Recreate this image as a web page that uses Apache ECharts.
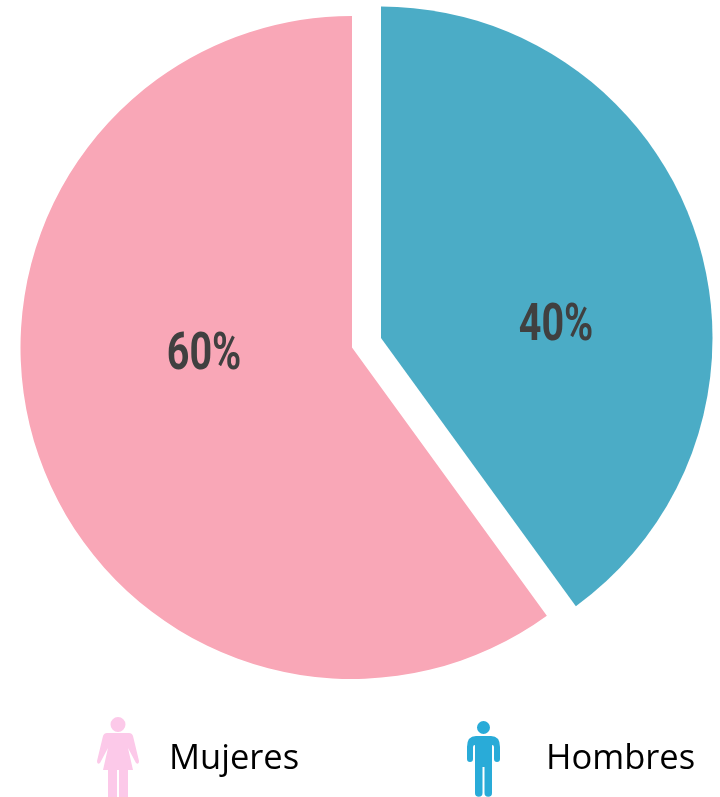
<!DOCTYPE html>
<html><head><meta charset="utf-8">
<style>html,body{margin:0;padding:0;background:#fff}#c{width:720px;height:797px}</style>
<script src="https://cdn.jsdelivr.net/npm/echarts@6/dist/echarts.min.js"></script>
</head><body><div id="c"></div>
<script>
const categories = ['Hombres', 'Mujeres'];
const values = [40, 60];
const colors = ['#4BACC6', '#F9A7B7'];
const iconColors = ['#29ABD8', '#FCC9E9'];
const womanIcon = 'path://M21 0a7.5 7.5 0 1 1-.01 0ZM10 16L32 16Q35 16 36 19L42 44Q42 48 39 46L31 31L36 53L31 53L31 80L22 80L22 53L20 53L20 80L11 80L11 53L6 53L11 31L3 46Q0 48 0 44L6 19Q7 16 10 16ZM21 84L21 84Z';
const manIcon = 'path://M16.5 0a6.5 6.5 0 1 1-.01 0ZM9 15L24 15Q33 15 33 26L33 38a3 3 0 0 1-6 0L27 26Q27 24 25 24L25 72a3.75 3.75 0 0 1-7.5 0L17.5 46L15.5 46L15.5 72a3.75 3.75 0 0 1-7.5 0L8 24Q6 24 6 26L6 38a3 3 0 0 1-6 0L0 26Q0 15 9 15Z';

const legendText = {fontFamily:'Open Sans', fontSize:34.5, color:'#000'};
const pctLabel = (v, x, y) => ({type:'text', x, y, scaleX:0.76, silent:true, z:10,
  style:{text:v+'%', fontFamily:'Roboto', fontWeight:'bold', fontSize:52, fill:'#404040', textAlign:'center', textVerticalAlign:'middle'}});
const chart = echarts.init(document.getElementById('c'), null, {renderer:'canvas'});
chart.setOption({
  animation:false,
  backgroundColor:'#fff',
  legend:[
    {left:97, top:717, padding:0, itemWidth:42, itemHeight:84, selectedMode:false,
     data:[{name:categories[1], icon:womanIcon, itemStyle:{color:iconColors[1]}}],
     textStyle:{...legendText, padding:[0,0,0,25]}},
    {left:467, top:721, padding:0, itemWidth:33, itemHeight:76, selectedMode:false,
     data:[{name:categories[0], icon:manIcon, itemStyle:{color:iconColors[0]}}],
     textStyle:{...legendText, padding:[0,0,0,41]}}
  ],
  graphic:[pctLabel(values[1],204,356), pctLabel(values[0],556,327)],
  series:[{
    type:'pie',
    center:[352,347.5],
    radius:[0,331.5],
    startAngle:90,
    clockwise:true,
    selectedMode:'single',
    selectedOffset:30.5,
    silent:true,
    labelLine:{show:false},
    label:{show:false},
    data:[
      {name:categories[0], value:values[0], selected:true, itemStyle:{color:colors[0]}},
      {name:categories[1], value:values[1], itemStyle:{color:colors[1]}}
    ]
  }]
});
</script></body></html>
